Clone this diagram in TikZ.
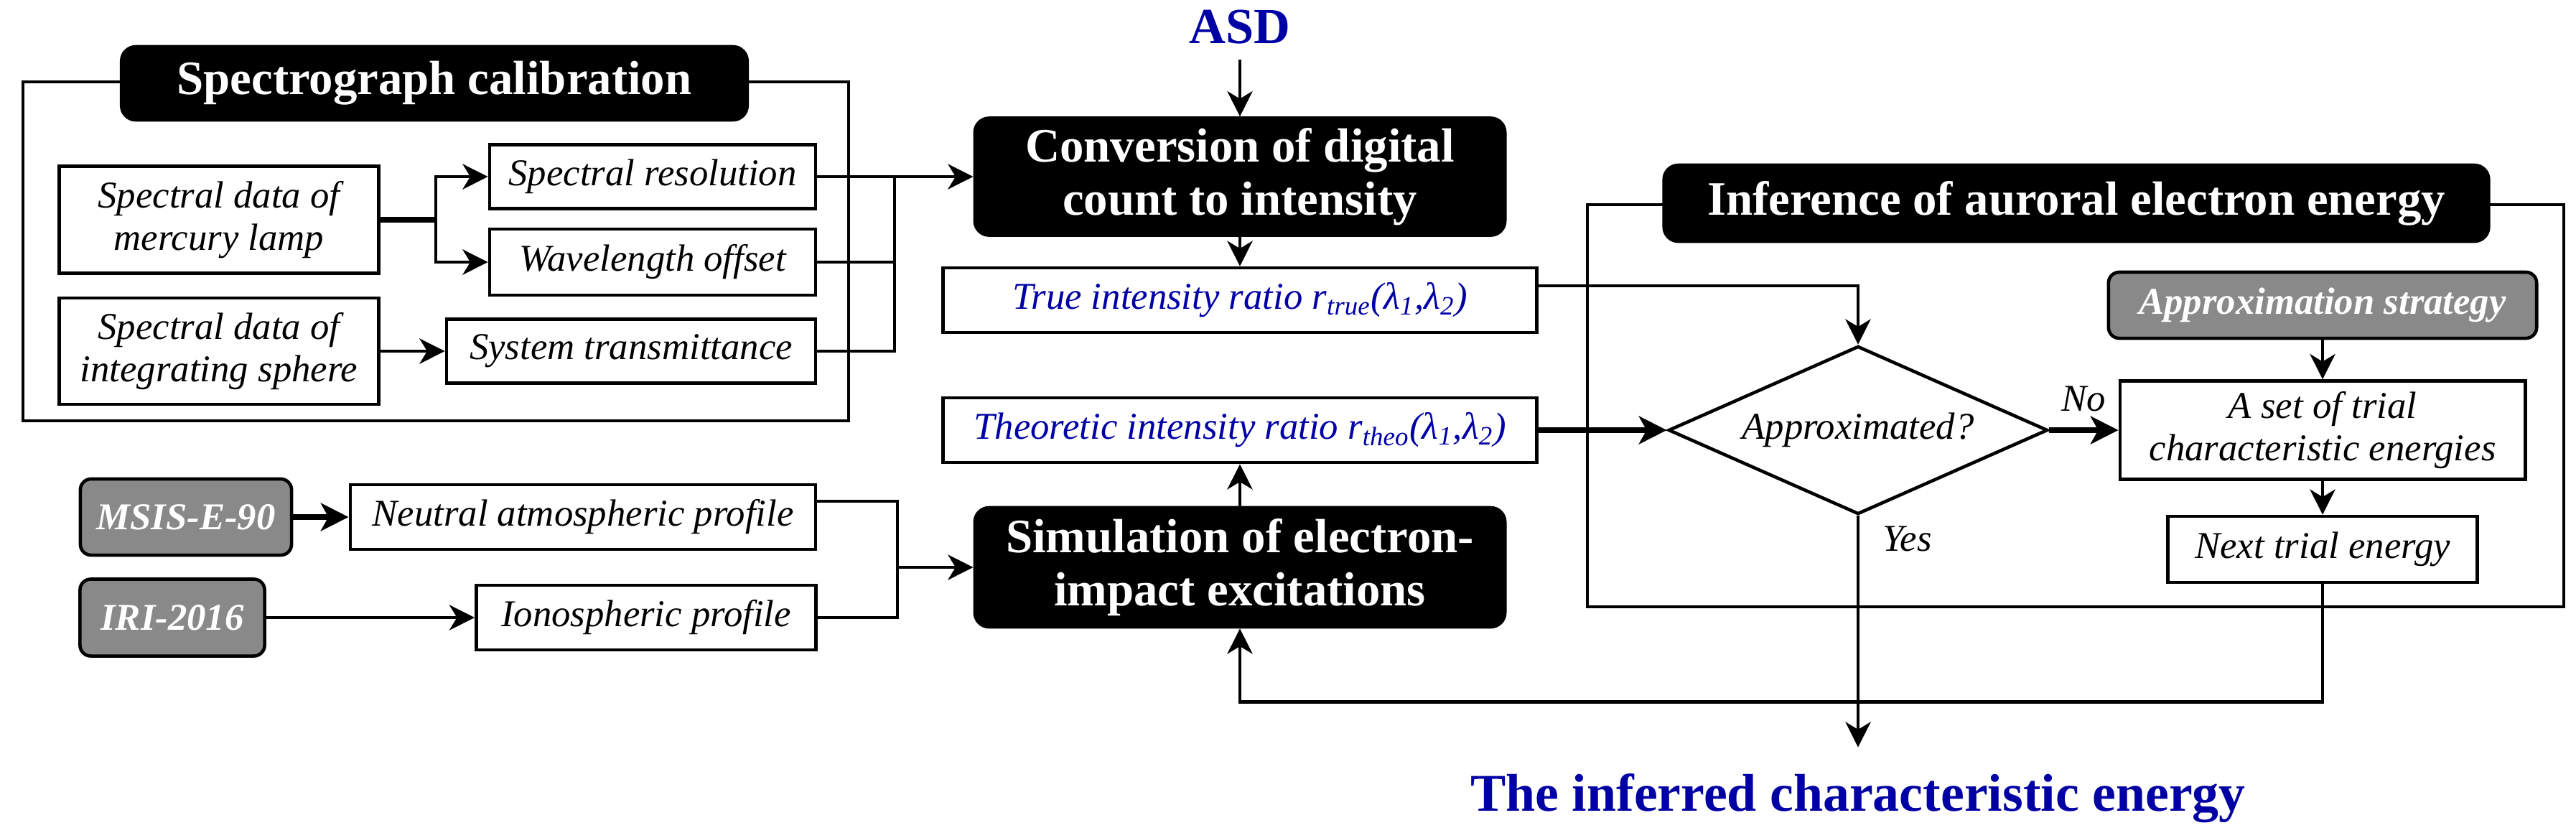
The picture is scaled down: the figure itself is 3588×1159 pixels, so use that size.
\documentclass[tikz,border=0pt]{standalone}
\usepackage{fontspec}
\setmainfont{Liberation Serif}
\usepackage{tikz}
\usetikzlibrary{arrows.meta,shapes.geometric}
\definecolor{darkblue}{RGB}{0,0,165}
\definecolor{boxgray}{RGB}{137,137,137}

\begin{document}
\begin{tikzpicture}[x=0.01cm, y=-0.01cm,
        every node/.style={draw, line width=1.3pt, inner sep=0pt, align=center, font=\fontsize{15}{17}\selectfont\itshape},
        blackbox/.style={fill=black, text=white, rounded corners=0.2cm, font=\fontsize{19}{21}\selectfont\bfseries},
        graybox/.style={fill=boxgray, text=white, rounded corners=0.15cm, font=\fontsize{15}{17}\selectfont\bfseries\itshape},
        bluetext/.style={text=darkblue},
        plain/.style={draw=none},
        frame/.style={line width=1.2pt},
        arr/.style={line width=1.3pt, -{Stealth[length=10pt, width=10pt, inset=3pt]}},
        thickarr/.style={line width=2.2pt, -{Stealth[length=11pt, width=11pt, inset=3pt]}}]
        \useasboundingbox (0,0) rectangle (3588,1159);
        \draw[frame] (32,114) rectangle (1182,586);
        \draw[frame] (2211,285) rectangle (3571,845);

        % Define the nodes
        \node[blackbox, minimum width=8.71cm, minimum height=1.02cm] (calib) at (605,116) {Spectrograph calibration};
        \node[minimum width=4.45cm, minimum height=1.49cm] (merc) at (305,306) {Spectral data of\\mercury lamp};
        \node[minimum width=4.45cm, minimum height=1.48cm] (integ) at (305,489) {Spectral data of\\integrating sphere};
        \node[minimum width=4.54cm, minimum height=0.89cm] (res) at (909,246) {Spectral resolution};
        \node[minimum width=4.54cm, minimum height=0.92cm] (wav) at (909,365) {Wavelength offset};
        \node[minimum width=5.14cm, minimum height=0.89cm] (trans) at (879,489) {System transmittance};

        \node[graybox, minimum width=2.94cm, minimum height=1.06cm] (msis) at (259,720) {MSIS-E-90};
        \node[graybox, minimum width=2.57cm, minimum height=1.07cm] (iri) at (240,860) {IRI-2016};
        \node[minimum width=6.48cm, minimum height=0.90cm] (neutral) at (812,720) {Neutral atmospheric profile};
        \node[minimum width=4.73cm, minimum height=0.90cm] (iono) at (900,860) {Ionospheric profile};

        \node[plain, bluetext, font=\fontsize{20}{24}\selectfont\bfseries, inner ysep=0.19cm] (asd) at (1727,38) {ASD};
        \node[blackbox, minimum width=7.38cm, minimum height=1.63cm] (conv) at (1727,246) {Conversion of digital\\count to intensity};
        \node[bluetext, minimum width=8.26cm, minimum height=0.90cm] (trueratio) at (1727,418) {True intensity ratio r\textsubscript{true}(λ\textsubscript{1},λ\textsubscript{2})};
        \node[bluetext, minimum width=8.26cm, minimum height=0.90cm] (theo) at (1727,599) {Theoretic intensity ratio r\textsubscript{theo}(λ\textsubscript{1},λ\textsubscript{2})};
        \node[blackbox, minimum width=7.38cm, minimum height=1.66cm] (sim) at (1727,790) {Simulation of electron-\\impact excitations};

        \node[blackbox, minimum width=11.48cm, minimum height=1.06cm] (infer) at (2892,283) {Inference of auroral electron energy};
        \node[diamond, aspect=2.26, minimum width=5.28cm, minimum height=2.34cm] (dia) at (2588,599) {Approximated?};
        \node[graybox, minimum width=5.96cm, minimum height=0.92cm] (approx) at (3235,425) {Approximation strategy};
        \node[minimum width=5.64cm, minimum height=1.37cm] (trial) at (3235,599) {A set of trial\\characteristic energies};
        \node[minimum width=4.31cm, minimum height=0.92cm] (next) at (3235,765) {Next trial energy};
        \node[plain, bluetext, font=\fontsize{21}{24}\selectfont\bfseries, inner ysep=0.35cm] (result) at (2588,1112) {The inferred characteristic energy};

        \begin{scope}[every node/.style={draw=none, font=\fontsize{15}{17}\selectfont\itshape}]
        \draw[line width=2.4pt] (merc.east) -- ++(77,0) coordinate (split);
        \draw[arr] (split) |- (res.west);
        \draw[arr] (split) |- (wav.west);
        \draw[arr] (integ.east) -- (trans.west);
        \coordinate (calbus) at (1246,246);
        \draw[arr] (res.east) -- (conv.west);
        \draw[frame] (wav.east) -| (calbus);
        \draw[frame] (trans.east) -| (calbus);

        \draw[thickarr] (msis.east) -- (neutral.west);
        \draw[arr] (iri.east) -- (iono.west);
        \coordinate (modbus) at (1250,790);
        \draw[frame] ([yshift=0.22cm]neutral.east) -| (modbus);
        \draw[frame] (iono.east) -| (modbus);
        \draw[arr] (modbus) -- (sim.west);

        \draw[arr] (asd) -- (conv);
        \draw[arr] (conv) -- (trueratio);
        \draw[arr] (sim) -- (theo);
        \draw[arr] ([yshift=0.2cm]trueratio.east) -| (dia.north);
        \draw[thickarr] (theo.east) -- (dia.west);
        \draw[thickarr] (dia.east) -- node[above=0.1cm] {No} (trial.west);
        \draw[arr] (approx) -- (trial);
        \draw[arr] (trial) -- (next);
        \draw[arr] (dia.south) -- node[pos=0.1, right=0.2cm] {Yes} (result.north);
        \draw[arr] (next.south) -- ++(0,164) -| (sim.south);
        \end{scope}
    \end{tikzpicture}
\end{document}
